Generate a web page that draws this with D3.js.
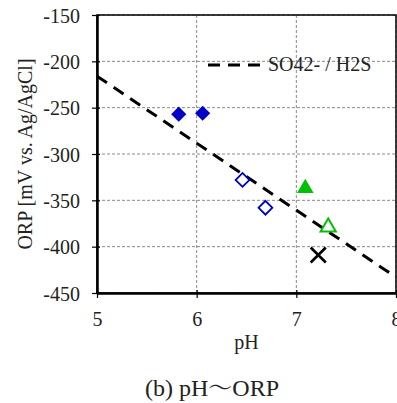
<!DOCTYPE html>
<html>
<head>
<meta charset="utf-8">
<script src="https://cdn.jsdelivr.net/npm/d3@7"></script>
<style>
  body { margin: 0; background: #fff; }
  text { font-family: "Liberation Serif", "Noto Serif CJK JP", "Noto Sans CJK JP", serif; fill: #222; }
</style>
</head>
<body>
<svg id="chart" width="397" height="403"></svg>
<script>
// data
var xTicks = [5, 6, 7, 8];
var yTicks = [-150, -200, -250, -300, -350, -400, -450];

var filledDiamonds = [[5.82, -257], [6.06, -256]];
var openDiamonds = [[6.46, -328], [6.69, -358]];
var filledTriangles = [[7.09, -337]];
var openTriangles = [[7.32, -379]];
var crosses = [[7.22, -409]];
var so4Line = [[5, -216], [8, -433]];

var svg = d3.select("#chart");
var margin = { left: 97, top: 15, right: 1, bottom: 110 };
var W = 397 - margin.left - margin.right,
    H = 403 - margin.top - margin.bottom;

var x = d3.scaleLinear().domain([5, 8]).range([margin.left, margin.left + W]);
var y = d3.scaleLinear().domain([-450, -150]).range([margin.top + H, margin.top]);

// grid
var grid = svg.append("g");
grid.selectAll(".hg").data(yTicks).enter().append("line")
  .attr("x1", x(5)).attr("x2", x(8))
  .attr("y1", function(d) { return y(d); }).attr("y2", function(d) { return y(d); })
  .attr("stroke", "#8a8a8a").attr("stroke-width", 1).attr("stroke-dasharray", "3,2");
grid.selectAll(".vg").data(xTicks).enter().append("line")
  .attr("y1", y(-450)).attr("y2", y(-150))
  .attr("x1", function(d) { return x(d); }).attr("x2", function(d) { return x(d); })
  .attr("stroke", "#8a8a8a").attr("stroke-width", 1).attr("stroke-dasharray", "3,2");

// frame (top/right thin)
svg.append("rect")
  .attr("x", x(5)).attr("y", y(-150))
  .attr("width", x(8) - x(5)).attr("height", y(-450) - y(-150))
  .attr("fill", "none").attr("stroke", "#000").attr("stroke-width", 1.5);

// axes
var fmt = function(d) { return String(d); };
var xAxis = svg.append("g")
  .attr("transform", "translate(0," + y(-450) + ")")
  .call(d3.axisBottom(x).tickValues(xTicks).tickFormat(fmt).tickSize(5).tickSizeOuter(0).tickPadding(14));
var yAxis = svg.append("g")
  .attr("transform", "translate(" + x(5) + ",0)")
  .call(d3.axisLeft(y).tickValues(yTicks).tickFormat(fmt).tickSize(5).tickSizeOuter(0).tickPadding(12));
[xAxis, yAxis].forEach(function(a) {
  a.attr("font-family", null).attr("font-size", null);
  a.select(".domain").attr("stroke", "#000").attr("stroke-width", 2.5);
  a.selectAll(".tick line").attr("stroke", "#000").attr("stroke-width", 1.2);
  a.selectAll(".tick text").style("font-size", "20px").attr("fill", "#222");
});
xAxis.selectAll(".tick line").attr("y1", -3).attr("y2", 5);
yAxis.selectAll(".tick line").attr("x1", 3).attr("x2", -5);
yAxis.selectAll(".tick text").attr("dy", "0.35em");

// SO42-/H2S line
var line = d3.line().x(function(d) { return x(d[0]); }).y(function(d) { return y(d[1]); });
svg.append("path").datum(so4Line).attr("d", line)
  .attr("fill", "none").attr("stroke", "#000").attr("stroke-width", 3)
  .attr("stroke-dasharray", "12,8");

// markers
svg.selectAll(".fd").data(filledDiamonds).enter().append("path")
  .attr("d", d3.symbol(d3.symbolSquare, 115))
  .attr("transform", function(d) { return "translate(" + x(d[0]) + "," + y(d[1]) + ") rotate(45)"; })
  .attr("fill", "#0000c8");
svg.selectAll(".od").data(openDiamonds).enter().append("path")
  .attr("d", d3.symbol(d3.symbolSquare, 95))
  .attr("transform", function(d) { return "translate(" + x(d[0]) + "," + y(d[1]) + ") rotate(45)"; })
  .attr("fill", "#fff").attr("stroke", "#0000c8").attr("stroke-width", 1.8);
svg.selectAll(".ft").data(filledTriangles).enter().append("path")
  .attr("d", d3.symbol(d3.symbolTriangle, 120))
  .attr("transform", function(d) { return "translate(" + x(d[0]) + "," + y(d[1]) + ")"; })
  .attr("fill", "#00c000");
svg.selectAll(".ot").data(openTriangles).enter().append("path")
  .attr("d", d3.symbol(d3.symbolTriangle, 100))
  .attr("transform", function(d) { return "translate(" + x(d[0]) + "," + y(d[1]) + ")"; })
  .attr("fill", "none").attr("stroke", "#00c000").attr("stroke-width", 2);
svg.selectAll(".cx").data(crosses).enter().append("path")
  .attr("d", d3.symbol(d3.symbolX, 150))
  .attr("transform", function(d) { return "translate(" + x(d[0]) + "," + y(d[1]) + ")"; })
  .attr("fill", "none").attr("stroke", "#000").attr("stroke-width", 2.6);

// legend
svg.append("line")
  .attr("x1", 208).attr("x2", 264).attr("y1", 65).attr("y2", 65)
  .attr("stroke", "#000").attr("stroke-width", 3).attr("stroke-dasharray", "12,8");
svg.append("text").attr("x", 268).attr("y", 71)
  .style("font-size", "20px").text("SO42- / H2S");

// titles
svg.append("text")
  .attr("transform", "translate(32," + y(-300) + ") rotate(-90)")
  .attr("text-anchor", "middle").style("font-size", "20px")
  .text("ORP [mV vs. Ag/AgCl]");
svg.append("text").attr("x", (x(5) + x(8)) / 2).attr("y", 349)
  .attr("text-anchor", "middle").style("font-size", "20px").text("pH");
svg.append("text").attr("x", 212).attr("y", 396)
  .attr("text-anchor", "middle").style("font-size", "24px").text("(b) pH～ORP");
</script>
</body>
</html>
